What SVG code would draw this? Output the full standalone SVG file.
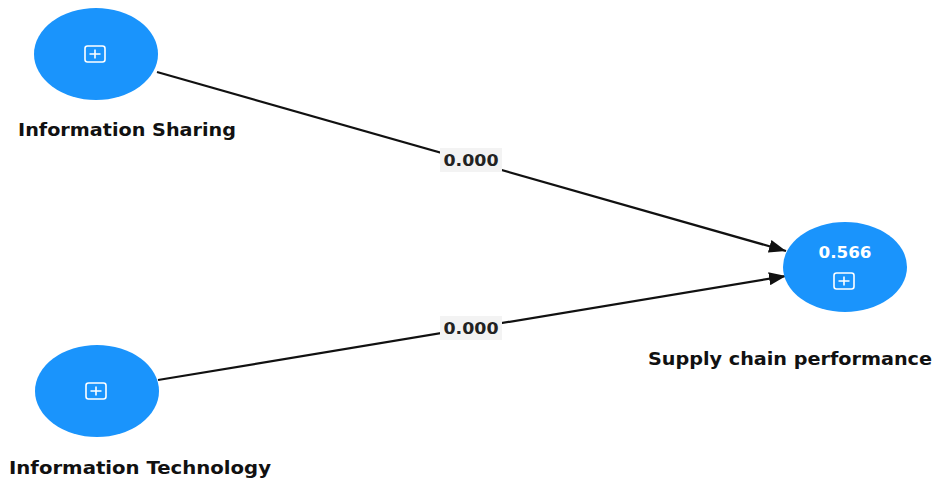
<svg xmlns="http://www.w3.org/2000/svg" width="935" height="480" viewBox="0 0 935 480">
<defs>
<style>
.node{fill:#1a94fc;}
.icon{fill:none;stroke:#ffffff;stroke-width:1.6;}
.lbl{font-family:"DejaVu Sans","Open Sans",sans-serif;font-weight:700;font-size:17px;fill:#111111;}
.elbl{font-family:"DejaVu Sans","Open Sans",sans-serif;font-weight:700;font-size:16px;fill:#222222;text-anchor:middle;}
.elbg{fill:#f3f3f3;}
.edge{stroke:#111111;stroke-width:2.2;fill:none;}
.val{font-family:"DejaVu Sans","Open Sans",sans-serif;font-weight:600;font-size:16px;fill:#ffffff;text-anchor:middle;}
</style>
<marker id="arr" viewBox="0 0 10 10" refX="10" refY="5" markerWidth="17" markerHeight="13" markerUnits="userSpaceOnUse" orient="auto" preserveAspectRatio="none">
<path d="M0,0 L10,5 L0,10 Z" fill="#111111"/>
</marker>
</defs>
<rect width="935" height="480" fill="#ffffff"/>
<g id="connectors">
<line class="edge" x1="157" y1="72" x2="786" y2="251" marker-end="url(#arr)"/>
<line class="edge" x1="158" y1="380" x2="786" y2="276" marker-end="url(#arr)"/>
<rect class="elbg" x="440" y="148" width="62" height="24"/>
<text class="elbl" x="471" y="166" textLength="55" lengthAdjust="spacingAndGlyphs">0.000</text>
<rect class="elbg" x="440" y="316" width="62" height="24"/>
<text class="elbl" x="471" y="334" textLength="55" lengthAdjust="spacingAndGlyphs">0.000</text>
</g>
<g id="node-information-sharing">
<ellipse class="node" cx="96" cy="54" rx="62" ry="46"/>
<rect class="icon" x="85" y="46" width="20" height="16" rx="2.5"/>
<path class="icon" d="M95,49.5 V58.5 M89.5,54 H100.5"/>
<text class="lbl" x="18" y="136" textLength="218" lengthAdjust="spacingAndGlyphs">Information Sharing</text>
</g>
<g id="node-information-technology">
<ellipse class="node" cx="97" cy="391" rx="62" ry="46"/>
<rect class="icon" x="86" y="383" width="20" height="16" rx="2.5"/>
<path class="icon" d="M96,386.5 V395.5 M90.5,391 H101.5"/>
<text class="lbl" x="9" y="474" textLength="262" lengthAdjust="spacingAndGlyphs">Information Technology</text>
</g>
<g id="node-supply-chain-performance">
<ellipse class="node" cx="845" cy="267" rx="62" ry="45"/>
<text class="val" x="845" y="258" textLength="53" lengthAdjust="spacingAndGlyphs">0.566</text>
<rect class="icon" x="834" y="273" width="20" height="16" rx="2.5"/>
<path class="icon" d="M844,276.5 V285.5 M838.5,281 H849.5"/>
<text class="lbl" x="648" y="365" textLength="284" lengthAdjust="spacingAndGlyphs">Supply chain performance</text>
</g>
</svg>
